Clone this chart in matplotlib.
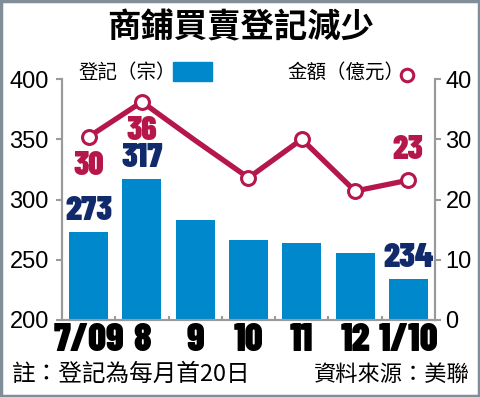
import numpy as np
import matplotlib.pyplot as plt
from matplotlib.patches import Rectangle
from matplotlib.lines import Line2D

# 資料
months = ['7/09', '8', '9', '10', '11', '12', '1/10']
deals = [273, 317, 283, 266, 264, 256, 234]
amount = [30.4, 36.2, 29.8, 23.6, 30.0, 21.4, 23.2]
deal_labels = {0: '273', 1: '317', 6: '234'}
amount_labels = {0: '30', 1: '36', 6: '23'}

BAR = '#0088cc'
RED = '#b5174a'
NAVY = '#102a6b'
GREY = '#9a9a9a'
CJK = ['Noto Sans CJK TC', 'DejaVu Sans']
NUM = ['Barlow Condensed', 'DejaVu Sans']

W, H = 481, 397
fig = plt.figure(figsize=(W / 100, H / 100), dpi=100)
ax = fig.add_axes([62 / W, 1 - 320 / H, (435 - 62) / W, (320 - 79) / H])
ax2 = ax.twinx()

x = np.arange(len(months))
ax.bar(x, deals, width=0.73, color=BAR, zorder=2)
ax.set_ylim(200, 400)
ax.set_xlim(-0.5, len(months) - 0.5)
ax.set_yticks([200, 250, 300, 350, 400])

ax2.plot(x, amount, color=RED, lw=3.8, marker='o', ms=10, mfc='white',
         mec=RED, mew=2.2, markevery=[0, 1, 3, 4, 5, 6], zorder=3)
ax2.set_ylim(0, 40)
ax2.set_yticks([0, 10, 20, 30, 40])

for a in (ax, ax2):
    a.spines['top'].set_visible(False)
    for s in ('left', 'right', 'bottom'):
        a.spines[s].set_color(GREY)
        a.spines[s].set_linewidth(1.5)
    a.tick_params(axis='y', length=4.5, width=1.5, color=GREY, labelsize=17)
    for t in a.get_yticklabels():
        t.set_family(['Liberation Sans', 'DejaVu Sans'])
ax.tick_params(axis='y', pad=5)
ax2.tick_params(axis='y', pad=3)
ax.patch.set_visible(False)

ax.set_xticks(x)
ax.set_xticklabels(months, fontsize=28, fontweight=900, family=NUM)
ax.tick_params(axis='x', length=0, pad=2)
ax.set_xticks(x[:-1] + 0.5, minor=True)
ax.tick_params(axis='x', which='minor', direction='in', length=3, width=1.5, color=GREY)

# 數字標籤
for i, s in deal_labels.items():
    ax.annotate(s, (x[i], deals[i]), xytext=(0, 4), textcoords='offset points',
                ha='center', va='bottom', fontsize=25, fontweight=900,
                family=NUM, color=NAVY, zorder=5)
for i, s in amount_labels.items():
    dy = 11 if i == 6 else -10
    ax2.annotate(s, (x[i], amount[i]), xytext=(0, dy), textcoords='offset points',
                 ha='center', va='bottom' if dy > 0 else 'top', fontsize=24,
                 fontweight=900, family=NUM, color=RED, zorder=5)

# 標題和圖例
fig.text(0.5, 1 - 28 / H, '商鋪買賣登記減少', ha='center', va='center',
         fontsize=24, fontweight='black', family=CJK)
fig.text(79 / W, 1 - 72 / H, '登記（宗）', ha='left', va='center', fontsize=14, family=CJK)
fig.patches.append(Rectangle((173 / W, 1 - 81 / H), 39 / W, 19 / H,
                             color=BAR, transform=fig.transFigure, figure=fig))
fig.text(287 / W, 1 - 72 / H, '金額（億元）', ha='left', va='center', fontsize=14, family=CJK)
fig.lines.append(Line2D([407 / W], [1 - 75 / H], marker='o', ms=9, mfc='white',
                        mec=RED, mew=2.2, transform=fig.transFigure, figure=fig))

fig.text(12 / W, 1 - 374 / H, '註：登記為每月首20日', ha='left', va='center',
         fontsize=17, family=CJK)
fig.text(470 / W, 1 - 374 / H, '資料來源：美聯', ha='right', va='center',
         fontsize=16, family=CJK)

# 外框
fig.patches.append(Rectangle((0.002, 0.003), 0.994, 0.994, fill=False,
                             ec='#7f8e99', lw=2.5, transform=fig.transFigure, figure=fig))

fig.savefig('out.png', dpi=100)
